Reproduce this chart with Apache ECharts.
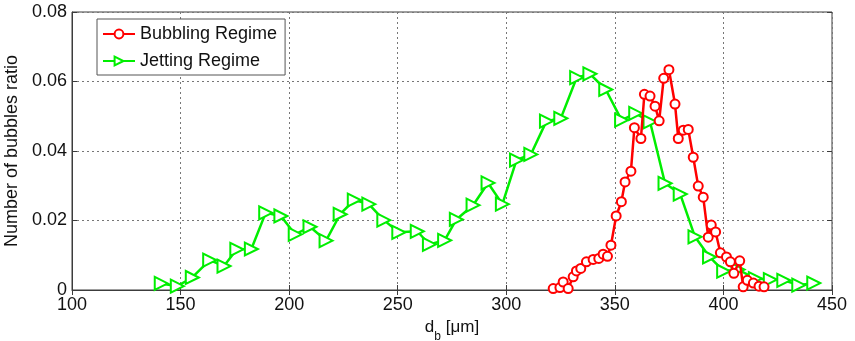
<!DOCTYPE html>
<html>
<head>
<meta charset="utf-8">
<script src="https://cdn.jsdelivr.net/npm/echarts@6/dist/echarts.min.js"></script>
<style>
  html, body { margin: 0; padding: 0; background: #fff; }
  #chart { width: 855px; height: 341px; }
</style>
</head>
<body>
<div id="chart"></div>
<script>
// x ticks and y ticks
var xTicks = [100, 150, 200, 250, 300, 350, 400, 450]
var yTicks = [0, 0.02, 0.04, 0.06, 0.08]

// Bubbling regime (red circles): bubble diameter, ratio
var bubX = [321.6, 324.7, 326.2, 328.5, 330.8, 332.3, 334.3, 336.9, 340, 342.6,
  344.6, 346.6, 348.2, 350.6, 353, 354.7, 357.4, 359, 362, 363.6,
  366.2, 368.5, 370.4, 372.5, 374.9, 377.7, 379.2, 381.5, 383.8, 386.1,
  388.4, 390.7, 393, 394.4, 396.4, 398.6, 401.4, 403.2, 404.8, 407.5,
  409.1, 411, 413.8, 416.4, 418.7]
var bubY = [0.0004, 0.0007, 0.0023, 0.0004, 0.0038, 0.0055, 0.0062, 0.0081, 0.0088, 0.0091,
  0.0103, 0.0097, 0.0129, 0.0213, 0.0254, 0.0311, 0.0342, 0.0467, 0.0436, 0.0563,
  0.0558, 0.0529, 0.0487, 0.0609, 0.0634, 0.0535, 0.0436, 0.046, 0.0462, 0.0382,
  0.0299, 0.0267, 0.0152, 0.0187, 0.0167, 0.0107, 0.0095, 0.0081, 0.0048, 0.0084,
  0.0009, 0.0028, 0.002, 0.0011, 0.0009]

// Jetting regime (green triangles)
var jetX = [141.1, 148.5, 155.4, 163.4, 170, 175.9, 182.6, 189.2, 196.2, 202.8,
  209.6, 217, 223.5, 230, 236.7, 243.6, 250.5, 259, 264.6, 271.6,
  277, 284.7, 291.6, 298.2, 304.7, 311.3, 318.5, 325.1, 332.4, 338.5,
  345.8, 353.1, 359.6, 366.2, 373.1, 380.1, 386.9, 393.6, 400.1, 406.7,
  414.7, 421.6, 427.8, 434.7, 441.6]
var jetY = [0.0019, 0.0011, 0.0036, 0.0086, 0.0069, 0.0117, 0.0118, 0.0222, 0.0213, 0.016,
  0.0182, 0.0142, 0.0218, 0.0259, 0.0247, 0.0201, 0.0166, 0.0169, 0.0131, 0.0143,
  0.0203, 0.0244, 0.0308, 0.0247, 0.0374, 0.039, 0.0486, 0.0494, 0.0611, 0.0622,
  0.0577, 0.0489, 0.0508, 0.0484, 0.0307, 0.0276, 0.0153, 0.0095, 0.0054, 0.0059,
  0.0033, 0.003, 0.0028, 0.0014, 0.002]

function pairs(xs, ys) {
  var out = []
  for (var i = 0; i < xs.length; i++) out.push([xs[i], ys[i]])
  return out
}

var font = 'Liberation Sans, Arial, sans-serif'
var axisColor = '#3c3c3c'
var gridLine = { show: true, lineStyle: { color: '#777', type: [2, 3], width: 1 } }

var chart = echarts.init(document.getElementById('chart'))
var option = {
  animation: false,
  backgroundColor: '#fff',
  grid: {
    left: 72, right: 23, top: 12, bottom: 51,
    outerBoundsMode: 'none',
    containLabel: false,
    show: true, borderColor: axisColor, borderWidth: 1, backgroundColor: 'transparent'
  },
  legend: {
    left: 97, top: 19,
    orient: 'vertical',
    backgroundColor: '#fff',
    borderColor: '#555',
    borderWidth: 1,
    borderRadius: 0,
    padding: [6, 8, 5, 5],
    itemGap: 9,
    itemWidth: 32,
    itemHeight: 11,
    textStyle: { fontFamily: font, fontSize: 18, color: '#111' },
    data: ['Bubbling Regime', 'Jetting Regime']
  },
  xAxis: [{
    type: 'value',
    min: xTicks[0], max: xTicks[xTicks.length - 1], interval: 50,
    name: '{n|d}{s|b}{n| [μm]}',
    nameLocation: 'middle',
    nameGap: 25,
    nameTextStyle: {
      rich: {
        n: { fontFamily: font, fontSize: 17, color: '#111' },
        s: { fontFamily: font, fontSize: 12, color: '#111', verticalAlign: 'bottom', padding: [0, 0, -7, 0] }
      }
    },
    axisLine: { lineStyle: { color: axisColor } },
    axisTick: { inside: true, length: 5, lineStyle: { color: axisColor } },
    axisLabel: { fontFamily: font, fontSize: 18, color: '#111', margin: 6 },
    splitLine: gridLine
  }, {
    type: 'value', position: 'top',
    min: xTicks[0], max: xTicks[xTicks.length - 1], interval: 50,
    axisLine: { show: false },
    axisTick: { inside: true, length: 5, lineStyle: { color: axisColor } },
    axisLabel: { show: false },
    splitLine: { show: false }
  }],
  yAxis: [{
    type: 'value',
    min: yTicks[0], max: yTicks[yTicks.length - 1], interval: 0.02,
    name: 'Number of bubbles ratio',
    nameLocation: 'middle',
    nameGap: 50,
    nameTextStyle: { fontFamily: font, fontSize: 18, color: '#111' },
    axisLine: { show: true, lineStyle: { color: axisColor } },
    axisTick: { show: true, inside: true, length: 5, lineStyle: { color: axisColor } },
    axisLabel: { fontFamily: font, fontSize: 18, color: '#111', margin: 5 },
    splitLine: gridLine
  }, {
    type: 'value', position: 'right',
    min: yTicks[0], max: yTicks[yTicks.length - 1], interval: 0.02,
    axisLine: { show: false },
    axisTick: { show: true, inside: true, length: 5, lineStyle: { color: axisColor } },
    axisLabel: { show: false },
    splitLine: { show: false }
  }],
  series: [{
    name: 'Bubbling Regime',
    type: 'line',
    data: pairs(bubX, bubY),
    symbol: 'emptyCircle',
    symbolSize: 9,
    color: '#ff0000',
    lineStyle: { width: 2.5, color: '#ff0000' },
    itemStyle: { color: '#ff0000', borderWidth: 2.2 },
    z: 3
  }, {
    name: 'Jetting Regime',
    type: 'line',
    data: pairs(jetX, jetY),
    symbol: 'emptyTriangle',
    symbolRotate: -90,
    symbolSize: 13,
    color: '#00ee00',
    lineStyle: { width: 2.5, color: '#00ee00' },
    itemStyle: { color: '#00ee00', borderWidth: 2.2 },
    z: 2
  }]
}
chart.setOption(option)
</script>
</body>
</html>
